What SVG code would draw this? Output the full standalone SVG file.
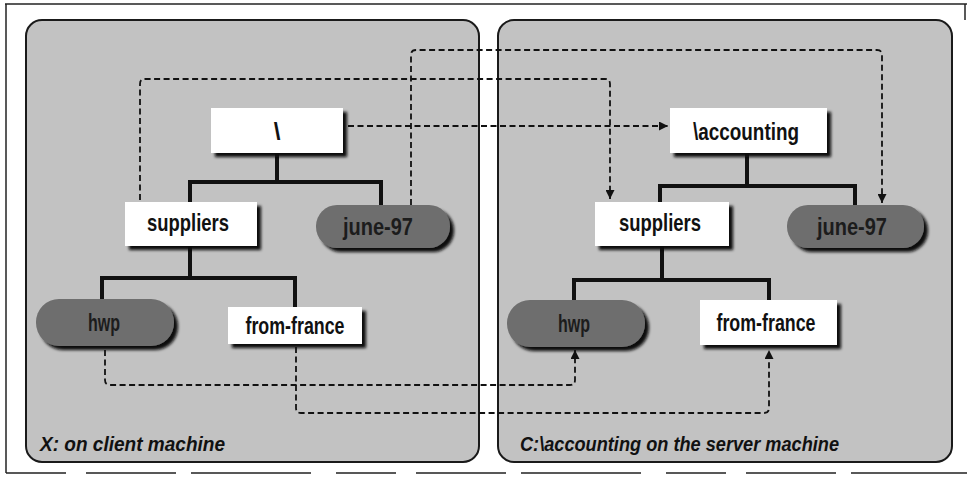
<svg xmlns="http://www.w3.org/2000/svg" width="967" height="483" viewBox="0 0 967 483">
<defs>
<filter id="sh" x="-10%" y="-20%" width="130%" height="160%">
<feDropShadow dx="4" dy="4" stdDeviation="1.5" flood-color="#0a0a0a" flood-opacity="1"/>
</filter>
<marker id="ah" viewBox="0 0 10 10" refX="10" refY="5" markerWidth="10" markerHeight="9" markerUnits="userSpaceOnUse" orient="auto">
<path d="M0,0 L10,5 L0,10 z" fill="#111"/>
</marker>
</defs>
<style>
.frame{stroke:#222;stroke-width:1.5;fill:none}
.panel{fill:#c2c2c2;stroke:#1a1a1a;stroke-width:2}
.box{fill:#ffffff;filter:url(#sh)}
.pill{fill:#6e6e6e;filter:url(#sh)}
.tree{stroke:#111;stroke-width:4;fill:none}
.dash{stroke:#111;stroke-width:1.8;fill:none;stroke-dasharray:6 3.5}
.lbl{font-family:"Liberation Sans",Arial,sans-serif;font-weight:bold;font-size:24px;fill:#111;text-anchor:middle}
.plbl{font-family:"Liberation Sans",Arial,sans-serif;font-weight:bold;font-size:24px;fill:#1c1c1c;text-anchor:middle}
.cap{font-family:"Liberation Sans",Arial,sans-serif;font-weight:bold;font-style:italic;font-size:21px;fill:#111}
</style>
<g id="frame">
<line class="frame" x1="5" y1="4" x2="967" y2="4"/>
<line class="frame" x1="6" y1="4" x2="6" y2="473"/>
<line class="frame" x1="6" y1="473" x2="967" y2="473" stroke-dasharray="60 20 90 15 120 25"/>
<line class="frame" x1="965" y1="4" x2="965" y2="20"/>
</g>
<g id="panel-client">
<rect class="panel" x="26" y="20" width="453" height="442" rx="16"/>
<text class="cap" x="40" y="451" textLength="185" lengthAdjust="spacingAndGlyphs">X: on client machine</text>
</g>
<g id="panel-server">
<rect class="panel" x="498" y="20" width="454" height="442" rx="16"/>
<text class="cap" x="520" y="451" textLength="319" lengthAdjust="spacingAndGlyphs">C:\accounting on the server machine</text>
</g>
<g id="tree">
<path class="tree" d="M277,153 V182 M190,203 V182 H381 V206 M190,246 V278 M102,300 V278 H295 V307"/>
<path class="tree" d="M747,153 V186 M660,203 V186 H855 V206 M662,246 V280 M574,301 V280 H769 V301"/>
</g>
<g id="L-root"><rect class="box" x="211" y="108" width="132" height="45"/><text class="lbl" x="277" y="140">\</text></g>
<g id="L-suppliers"><rect class="box" x="125" y="202" width="132" height="44"/><text class="lbl" x="188" y="231" textLength="82" lengthAdjust="spacingAndGlyphs">suppliers</text></g>
<g id="L-june97"><rect class="pill" x="316" y="205" width="134" height="43" rx="21"/><text class="plbl" x="378" y="235" textLength="70" lengthAdjust="spacingAndGlyphs">june-97</text></g>
<g id="L-hwp"><rect class="pill" x="36" y="299" width="138" height="47" rx="23"/><text class="plbl" x="104" y="331" textLength="32" lengthAdjust="spacingAndGlyphs">hwp</text></g>
<g id="L-fromfrance"><rect class="box" x="228" y="307" width="134" height="37"/><text class="lbl" x="295" y="334" textLength="99" lengthAdjust="spacingAndGlyphs">from-france</text></g>
<g id="R-accounting"><rect class="box" x="670" y="108" width="157" height="45"/><text class="lbl" x="746" y="140" textLength="106" lengthAdjust="spacingAndGlyphs">\accounting</text></g>
<g id="R-suppliers"><rect class="box" x="595" y="202" width="134" height="44"/><text class="lbl" x="660" y="231" textLength="82" lengthAdjust="spacingAndGlyphs">suppliers</text></g>
<g id="R-june97"><rect class="pill" x="787" y="205" width="137" height="43" rx="21"/><text class="plbl" x="852" y="235" textLength="70" lengthAdjust="spacingAndGlyphs">june-97</text></g>
<g id="R-hwp"><rect class="pill" x="507" y="300" width="138" height="47" rx="23"/><text class="plbl" x="574" y="332" textLength="32" lengthAdjust="spacingAndGlyphs">hwp</text></g>
<g id="R-fromfrance"><rect class="box" x="700" y="300" width="137" height="45"/><text class="lbl" x="766" y="331" textLength="99" lengthAdjust="spacingAndGlyphs">from-france</text></g>
<g id="connectors">
<path class="dash" d="M140,200 V84 Q140,79 145,79 H605 Q610,79 610,84 V199" marker-end="url(#ah)"/>
<path class="dash" d="M411,205 V55 Q411,50 416,50 H877 Q882,50 882,55 V203" marker-end="url(#ah)"/>
<path class="dash" d="M348,126 H668" marker-end="url(#ah)"/>
<path class="dash" d="M105,350 V380 Q105,385 110,385 H570 Q575,385 575,380 V350" marker-end="url(#ah)"/>
<path class="dash" d="M296,347 V408 Q296,413 301,413 H764 Q769,413 769,408 V350" marker-end="url(#ah)"/>
</g>
</svg>
